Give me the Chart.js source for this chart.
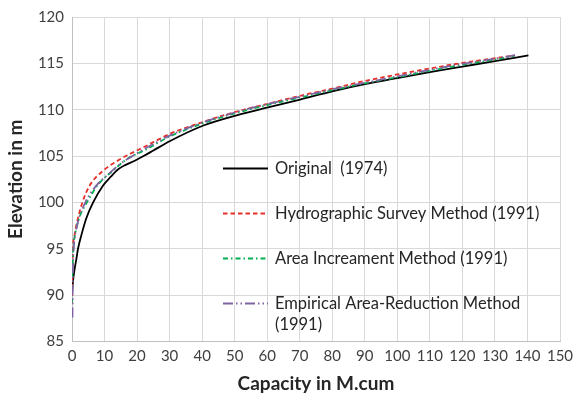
<!DOCTYPE html>
<html>
<head>
<meta charset="utf-8">
<script src="https://cdn.jsdelivr.net/npm/chart.js@4.4.0/dist/chart.umd.min.js"></script>
<style>
  html, body { margin: 0; padding: 0; background: #fff; }
  #wrap { width: 582px; height: 399px; }
</style>
</head>
<body>
<div id="wrap"><canvas id="curveChart" width="582" height="399"></canvas></div>
<script>
  // Curvas cota-volume
  const seriesNames = ['Original  (1974)', 'Hydrographic Survey Method (1991)', 'Area Increament Method (1991)', 'Empirical Area-Reduction Method (1991)'];

  const capOriginal = [0, 0.3, 0.8, 1.3, 1.85, 2.9, 4.4, 6.5, 9.5, 12, 14.3, 16.5, 19.3, 22, 25, 30, 40.4, 50.6, 60.9, 70.1, 80.3, 90, 100, 110, 120, 130, 140.3];
  const elevOriginal = [90.2, 91.5, 92.8, 93.8, 95, 96.5, 98.3, 100, 101.8, 102.8, 103.6, 104.05, 104.5, 105.0, 105.6, 106.6, 108.3, 109.4, 110.3, 111.1, 112.0, 112.75, 113.4, 114.05, 114.65, 115.25, 115.85];

  const capHydro = [0, 0.1, 0.3, 0.8, 1.5, 3.2, 5.4, 9.5, 14.5, 18.2, 21.7, 25, 30.1, 40.4, 50.6, 60.9, 70.1, 80.3, 90, 100, 110, 120, 130, 136];
  const elevHydro = [89.1, 92, 95, 96.5, 97.8, 100, 101.8, 103.4, 104.6, 105.3, 105.9, 106.5, 107.4, 108.7, 109.8, 110.7, 111.5, 112.3, 113.1, 113.8, 114.45, 115.05, 115.55, 115.85];

  const capArea = [0, 0.1, 0.4, 1, 2.2, 4.6, 8, 12.5, 17, 22.7, 30, 40, 50, 60, 70, 80, 90, 100, 110, 120, 130, 136];
  const elevArea = [89.2, 92, 95, 96.6, 98.3, 100, 101.9, 103.4, 104.7, 105.7, 107.1, 108.5, 109.6, 110.5, 111.3, 112.1, 112.85, 113.5, 114.2, 114.85, 115.4, 115.8];

  const capEmp = [0.15, 0.2, 0.3, 0.6, 1.5, 4.1, 7.2, 11, 15, 20, 25, 30, 40, 50, 60, 70, 80, 90, 100, 110, 120, 130, 136.2];
  const elevEmp = [87.6, 90, 93, 95.3, 97.4, 100, 101.7, 103.0, 104.2, 105.3, 106.3, 107.2, 108.6, 109.7, 110.6, 111.4, 112.2, 112.9, 113.6, 114.3, 114.95, 115.5, 115.9];

  const xTicks = [0, 10, 20, 30, 40, 50, 60, 70, 80, 90, 100, 110, 120, 130, 140, 150];
  const yTicks = [85, 90, 95, 100, 105, 110, 115, 120];

  function toPoints(xs, ys) {
    return xs.map((x, i) => ({ x: x, y: ys[i] }));
  }

  const lineStyles = [
    { color: '#000000', dash: [] },
    { color: '#e8302a', dash: [4.5, 3] },
    { color: '#00b050', dash: [5, 3, 1.5, 3] },
    { color: '#8064a2', dash: [10, 3, 1.5, 3, 1.5, 3] }
  ];

  const allCaps = [capOriginal, capHydro, capArea, capEmp];
  const allElevs = [elevOriginal, elevHydro, elevArea, elevEmp];

  const curveData = {
    datasets: seriesNames.map((name, i) => ({
      label: name,
      data: toPoints(allCaps[i], allElevs[i]),
      borderColor: lineStyles[i].color,
      borderDash: lineStyles[i].dash,
      borderWidth: 1.8,
      pointRadius: 0,
      showLine: true,
      fill: false,
      cubicInterpolationMode: 'monotone'
    })).reverse()
  };

  // Legenda desenhada dentro da área do gráfico
  const insideLegend = {
    id: 'insideLegend',
    afterDatasetsDraw(chart) {
      const ctx = chart.ctx;
      const rows = [168.5, 213.5, 258.5, 303.5];
      ctx.save();
      ctx.font = '16.5px Lato';
      ctx.textBaseline = 'middle';
      seriesNames.forEach((name, i) => {
        ctx.strokeStyle = lineStyles[i].color;
        ctx.lineWidth = 1.8;
        ctx.setLineDash(lineStyles[i].dash);
        ctx.beginPath();
        ctx.moveTo(223, rows[i]);
        ctx.lineTo(268, rows[i]);
        ctx.stroke();
        ctx.fillStyle = '#262626';
        if (i === 3) {
          ctx.fillText('Empirical Area-Reduction Method', 275, rows[i]);
          ctx.fillText('(1991)', 275, rows[i] + 21);
        } else {
          ctx.fillText(name, 275, rows[i]);
        }
      });
      ctx.restore();
    }
  };

  const curveConfig = {
    type: 'scatter',
    data: curveData,
    plugins: [insideLegend],
    options: {
      responsive: false,
      animation: false,
      layout: { padding: { top: 12, right: 22, left: 0, bottom: 0 } },
      plugins: {
        legend: { display: false },
        tooltip: { enabled: false }
      },
      scales: {
        x: {
          type: 'linear',
          min: 0,
          max: 150,
          afterBuildTicks: (axis) => { axis.ticks = xTicks.map(v => ({ value: v })); },
          afterFit: (axis) => { axis.height = 57.5; },
          grid: { color: '#d9d9d9', lineWidth: 1, drawTicks: false },
          border: { color: '#bfbfbf' },
          ticks: { color: '#404040', font: { family: 'Lato', size: 15 }, padding: 6, maxRotation: 0, autoSkip: false },
          title: {
            display: true,
            text: 'Capacity in M.cum',
            color: '#262626',
            font: { family: 'Lato', size: 19, weight: 'bold' },
            padding: { top: 2 }
          }
        },
        y: {
          type: 'linear',
          min: 85,
          max: 120,
          afterBuildTicks: (axis) => { axis.ticks = yTicks.map(v => ({ value: v })); },
          afterFit: (axis) => { axis.width = 72; },
          grid: { color: '#d9d9d9', lineWidth: 1, drawTicks: false },
          border: { color: '#bfbfbf' },
          ticks: { color: '#404040', font: { family: 'Lato', size: 15 }, padding: 8 },
          title: {
            display: true,
            text: 'Elevation in m',
            color: '#262626',
            font: { family: 'Lato', size: 19, weight: 'bold' },
            padding: { bottom: 2 }
          }
        }
      }
    }
  };

  const curveCanvas = document.getElementById('curveChart');
  new Chart(curveCanvas, curveConfig);
</script>
</body>
</html>
